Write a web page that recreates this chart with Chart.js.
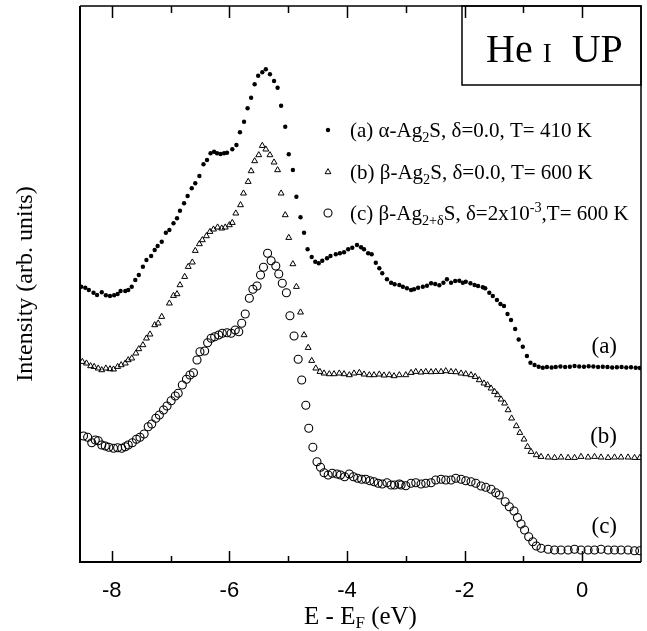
<!DOCTYPE html>
<html>
<head>
<meta charset="utf-8">
<script src="https://cdn.jsdelivr.net/npm/chart.js@4.4.0/dist/chart.umd.min.js"></script>
<style>
  html, body { margin: 0; padding: 0; background: #fff; }
  #wrap { width: 647px; height: 631px; }
</style>
</head>
<body>
<div id="wrap"><canvas id="chart" width="647" height="631"></canvas></div>
<script>
// energies (eV) and intensities (arb. units)
const xA = [-8.52,-8.45,-8.39,-8.31,-8.25,-8.17,-8.10,-8.03,-7.96,-7.90,-7.85,-7.77,-7.72,-7.66,-7.60,-7.54,-7.47,-7.41,-7.33,-7.27,-7.22,-7.15,-7.08,-7.02,-6.95,-6.89,-6.84,-6.77,-6.71,-6.64,-6.58,-6.51,-6.44,-6.38,-6.32,-6.26,-6.21,-6.15,-6.09,-6.04,-5.95,-5.88,-5.82,-5.75,-5.69,-5.63,-5.57,-5.51,-5.44,-5.38,-5.31,-5.24,-5.18,-5.12,-5.05,-4.99,-4.92,-4.86,-4.79,-4.73,-4.67,-4.60,-4.54,-4.48,-4.42,-4.34,-4.28,-4.19,-4.12,-4.05,-3.98,-3.91,-3.83,-3.76,-3.71,-3.64,-3.58,-3.51,-3.45,-3.40,-3.32,-3.25,-3.19,-3.11,-3.05,-2.98,-2.91,-2.86,-2.79,-2.71,-2.64,-2.57,-2.50,-2.43,-2.36,-2.30,-2.23,-2.16,-2.09,-2.03,-1.98,-1.90,-1.83,-1.77,-1.69,-1.65,-1.58,-1.52,-1.45,-1.39,-1.33,-1.27,-1.21,-1.14,-1.08,-1.01,-0.94,-0.88,-0.81,-0.74,-0.67,-0.60,-0.52,-0.45,-0.37,-0.29,-0.21,-0.13,-0.05,0.03,0.11,0.19,0.27,0.35,0.43,0.51,0.59,0.67,0.75,0.83,0.91,0.98];
const yA = [275.3,274.3,272,269.3,267,269.7,266.7,266,266.7,268,271,271,272,275.3,282,287,295.3,302,306,312,316,320.3,329.3,332,338.7,343.7,351.3,358.7,366,373.7,378.7,386,397.7,402,408.7,410.3,408.7,408,408.7,409.3,412.7,417,429.7,440.3,453.7,464.3,477.7,486.3,489.7,492.7,487.7,481,474.3,456.3,435.3,407.7,392,365.3,344.7,329.3,312.7,305,300.3,298.7,301.3,303.7,306,307.7,308.7,309.7,312.7,314.3,317,314.7,312.7,308.7,307.7,299.3,293.7,288.7,282.7,279.3,277.7,277,275.3,273.7,272,272.7,274.3,275.3,276.3,278.7,278,276.7,279.3,282.7,279.3,281,281.3,279.3,280.3,278.7,277,276,274.7,273.7,269.3,266,262,258,256,248,242,233,222.5,215.3,206,199.3,197,195.3,194.3,195,194.5,195,195.5,195,195.3,196,195.5,195.3,195.8,195.5,195,195.3,195,194.5,194.8,195,194.5,194.7,194.3,194];

const xB = [-8.50,-8.43,-8.36,-8.30,-8.23,-8.17,-8.10,-8.03,-7.97,-7.90,-7.84,-7.77,-7.72,-7.66,-7.59,-7.54,-7.47,-7.41,-7.35,-7.27,-7.21,-7.15,-7.02,-6.95,-6.89,-6.84,-6.76,-6.70,-6.63,-6.58,-6.51,-6.46,-6.39,-6.33,-6.27,-6.20,-6.13,-6.07,-6.00,-5.95,-5.89,-5.81,-5.76,-5.68,-5.63,-5.57,-5.50,-5.44,-5.38,-5.31,-5.24,-5.18,-5.12,-5.05,-4.99,-4.92,-4.86,-4.79,-4.73,-4.66,-4.60,-4.53,-4.46,-4.39,-4.30,-4.22,-4.13,-4.05,-3.96,-3.88,-3.79,-3.71,-3.62,-3.54,-3.45,-3.37,-3.28,-3.20,-3.11,-3.00,-2.91,-2.83,-2.74,-2.66,-2.57,-2.49,-2.40,-2.32,-2.23,-2.15,-2.06,-1.98,-1.89,-1.82,-1.75,-1.67,-1.61,-1.55,-1.49,-1.44,-1.38,-1.32,-1.26,-1.20,-1.12,-1.06,-0.99,-0.93,-0.87,-0.78,-0.70,-0.58,-0.47,-0.36,-0.24,-0.13,-0.02,0.10,0.21,0.32,0.44,0.55,0.66,0.78,0.89,0.98];
const yB = [200.3,198.7,196,195.3,193.7,192,193.7,193,192.7,195.3,197,198.7,202,203.7,208.7,213,217,223.7,227.7,237,238.7,245.3,258.7,266.3,268,277,285.3,295.3,299.7,311.3,318,322,326,330.3,332.7,334.7,333.7,334.7,337,339.3,348.7,357,368.7,380.3,391,401,407,416.3,412.7,407,399.7,392,368.7,347,324.3,298,275.3,249.7,227,214.3,201.3,193.7,190.3,188.7,188,188,188.7,188,187,188.7,189.3,187.7,187,187,187.7,186.7,187,186,187,187,189.3,190.3,189.7,190.3,190,190.3,190.3,191,190.3,190,188.7,188,187,185.3,182,178.7,177,173.7,170.3,167,162.7,158.7,152,143.7,136,129.3,122.7,115.3,110.3,107,105.3,104.7,104.3,104.7,104.3,104.3,105.3,104.7,105.3,104.7,104.3,104.7,104.7,104.7,104.3,104.3];

const xC = [-8.48,-8.41,-8.34,-8.28,-8.23,-8.17,-8.11,-8.05,-7.97,-7.90,-7.83,-7.77,-7.72,-7.65,-7.58,-7.52,-7.45,-7.38,-7.32,-7.25,-7.19,-7.12,-7.06,-6.99,-6.92,-6.87,-6.80,-6.73,-6.67,-6.61,-6.55,-6.50,-6.42,-6.37,-6.31,-6.25,-6.18,-6.12,-6.04,-5.97,-5.90,-5.84,-5.79,-5.73,-5.66,-5.60,-5.53,-5.47,-5.42,-5.35,-5.29,-5.21,-5.16,-5.10,-5.03,-4.97,-4.90,-4.83,-4.77,-4.70,-4.65,-4.58,-4.51,-4.45,-4.39,-4.32,-4.25,-4.17,-4.11,-4.04,-3.96,-3.89,-3.82,-3.75,-3.68,-3.61,-3.54,-3.47,-3.40,-3.32,-3.25,-3.19,-3.11,-3.08,-3.00,-2.91,-2.83,-2.74,-2.66,-2.57,-2.49,-2.40,-2.32,-2.23,-2.15,-2.06,-1.98,-1.89,-1.81,-1.72,-1.64,-1.55,-1.47,-1.41,-1.31,-1.24,-1.16,-1.10,-1.04,-0.98,-0.91,-0.84,-0.78,-0.70,-0.58,-0.47,-0.36,-0.24,-0.13,-0.02,0.10,0.21,0.32,0.44,0.55,0.66,0.78,0.89,0.98];
const yC = [126,124.7,119.3,122,121.3,117,116,114.7,113.7,114.3,113.7,115.3,117,119.3,122.7,124.7,128,135.3,138,143.7,147,152,156,161.3,166,168.7,177,182.7,187,189.3,202,210.3,211,219.3,223.7,225.3,227,228.7,229.3,228.7,232,230.3,238.7,248,263.7,272.7,276,287,294.7,308.7,301.3,296,288,278.7,269.3,246.3,226,202.7,182,156.7,133.7,114.7,100.3,94.7,89.3,87,88.7,88,87,85.3,88,85.3,83.7,82.7,82.7,81.3,80.3,78.7,78,79.3,77,77,78,77,76.3,78.7,79.3,78,78.7,79.3,82,82.7,82,82,83.7,82.7,81.3,80.3,78.7,76,74.7,72.7,69.3,67,60.3,55.3,51,44.5,38,32,25.3,20.3,16,13.7,12.7,12,12,12,12.7,12,12,12,12.7,12,12,12,12,11.3,11.3];

const tickVals = [-8, -7, -6, -5, -4, -3, -2, -1, 0];
const legendRows = [
  [["(a) α-Ag", "n"], ["2", "sub"], ["S, δ=0.0, T= 410 K", "n"]],
  [["(b) β-Ag", "n"], ["2", "sub"], ["S, δ=0.0, T= 600 K", "n"]],
  [["(c) β-Ag", "n"], ["2+δ", "sub"], ["S, δ=2x10", "n"], ["-3", "sup"], [",T= 600 K", "n"]]
];
const curveLabels = ["(a)", "(b)", "(c)"];

const SERIF = "'Liberation Serif', 'Times New Roman', serif";

function pts(xs, ys) {
  return xs.map((x, i) => ({ x: x, y: ys[i] }));
}

const datasets = [
  { label: "a", data: pts(xA, yA), pointStyle: "circle", pointRadius: 2.2,
    backgroundColor: "#000", borderColor: "#000", borderWidth: 0 },
  { label: "b", data: pts(xB, yB), pointStyle: "triangle", pointRadius: 3.4,
    backgroundColor: "rgba(0,0,0,0)", borderColor: "#000", borderWidth: 1 },
  { label: "c", data: pts(xC, yC), pointStyle: "circle", pointRadius: 4,
    backgroundColor: "rgba(0,0,0,0)", borderColor: "#000", borderWidth: 1.1 }
];

function drawRuns(ctx, runs, x, y, size) {
  runs.forEach(([t, mode]) => {
    let s = size, dy = 0;
    if (mode === "sub") { s = size * 0.68; dy = 5; }
    if (mode === "sup") { s = size * 0.68; dy = -8; }
    ctx.font = s + "px " + SERIF;
    ctx.fillText(t, x, y + dy);
    x += ctx.measureText(t).width;
  });
}

const decor = {
  id: "decor",
  afterDatasetsDraw(chart) {
    const { ctx, chartArea: a, scales } = chart;
    const xs = scales.x;
    ctx.save();
    ctx.strokeStyle = "#000";
    ctx.fillStyle = "#000";
    ctx.lineCap = "butt";

    // frame
    ctx.lineWidth = 1.5;
    ctx.beginPath();
    ctx.moveTo(a.left, a.top); ctx.lineTo(a.right, a.top);
    ctx.lineTo(a.right, a.bottom);
    ctx.stroke();
    ctx.lineWidth = 2;
    ctx.beginPath();
    ctx.moveTo(a.left, a.top); ctx.lineTo(a.left, a.bottom);
    ctx.lineTo(a.right, a.bottom);
    ctx.stroke();

    // inward ticks top and bottom
    ctx.lineWidth = 1.5;
    tickVals.forEach(v => {
      const px = Math.round(xs.getPixelForValue(v)) + 0.5;
      const len = v % 2 === 0 ? 11 : 6;
      ctx.beginPath();
      ctx.moveTo(px, a.bottom); ctx.lineTo(px, a.bottom - len);
      ctx.moveTo(px, a.top); ctx.lineTo(px, a.top + len + 1);
      ctx.stroke();
    });

    // title box
    ctx.lineWidth = 1.5;
    ctx.strokeRect(462, a.top, a.right - 462, 85 - a.top);
    ctx.textBaseline = "alphabetic";
    ctx.textAlign = "left";
    let tx = 486, ty = 62;
    ctx.font = "40px " + SERIF;
    ctx.fillText("He", tx, ty); tx += ctx.measureText("He ").width;
    ctx.font = "27px " + SERIF;
    ctx.fillText("I", tx, ty); tx += ctx.measureText("I").width;
    ctx.font = "40px " + SERIF;
    tx += ctx.measureText("  ").width;
    ctx.fillText("UP", tx, ty);

    // legend
    const rowY = [130, 172, 213];
    const mx = 328;
    rowY.forEach((ry, i) => {
      const ds = chart.data.datasets[i];
      ctx.lineWidth = ds.borderWidth || 1;
      ctx.fillStyle = ds.backgroundColor;
      ctx.strokeStyle = "#000";
      Chart.helpers.drawPoint(ctx, {
        pointStyle: ds.pointStyle, radius: ds.pointRadius,
        borderWidth: ds.borderWidth, rotation: 0
      }, mx, ry);
      ctx.fillStyle = "#000";
      ctx.textBaseline = "alphabetic";
      drawRuns(ctx, legendRows[i], 350, ry + 7, 21);
    });

    // curve labels
    ctx.font = "23px " + SERIF;
    ctx.textAlign = "right";
    ctx.textBaseline = "middle";
    [347, 437, 527].forEach((ly, i) => ctx.fillText(curveLabels[i], 617, ly));

    // x title with subscript
    ctx.textAlign = "left";
    ctx.textBaseline = "alphabetic";
    ctx.font = "25px " + SERIF;
    const w1 = ctx.measureText("E - E").width;
    ctx.font = "17px " + SERIF;
    const w2 = ctx.measureText("F").width;
    ctx.font = "25px " + SERIF;
    const w3 = ctx.measureText(" (eV)").width;
    let sx = (a.left + a.right) / 2 - (w1 + w2 + w3) / 2;
    const by = 624;
    ctx.fillText("E - E", sx, by); sx += w1;
    ctx.font = "17px " + SERIF;
    ctx.fillText("F", sx, by + 4); sx += w2;
    ctx.font = "25px " + SERIF;
    ctx.fillText(" (eV)", sx, by);

    // y title
    ctx.save();
    ctx.translate(26, (a.top + a.bottom) / 2);
    ctx.rotate(-Math.PI / 2);
    ctx.textAlign = "center";
    ctx.textBaseline = "middle";
    ctx.font = "24px " + SERIF;
    ctx.fillText("Intensity (arb. units)", 0, 0);
    ctx.restore();

    ctx.restore();
  }
};

new Chart(document.getElementById("chart"), {
  type: "scatter",
  data: { datasets: datasets },
  options: {
    responsive: false,
    animation: false,
    devicePixelRatio: 1,
    layout: { padding: { left: 80, right: 6, top: 6, bottom: 0 } },
    plugins: { legend: { display: false }, tooltip: { enabled: false } },
    elements: { point: { hoverRadius: 0 } },
    scales: {
      x: {
        type: "linear", min: -8.54, max: 1.0,
        afterBuildTicks: s => { s.ticks = tickVals.map(v => ({ value: v })); },
        afterFit: s => { s.height = 69; },
        grid: { display: false, drawTicks: false },
        border: { display: false },
        ticks: {
          padding: 16, color: "#000", autoSkip: false, maxRotation: 0,
          font: { family: "'Liberation Sans', Arial, sans-serif", size: 22 },
          callback: v => (v % 2 === 0 ? String(v) : "")
        }
      },
      y: { min: 0, max: 556, display: false }
    }
  },
  plugins: [decor]
});
</script>
</body>
</html>
